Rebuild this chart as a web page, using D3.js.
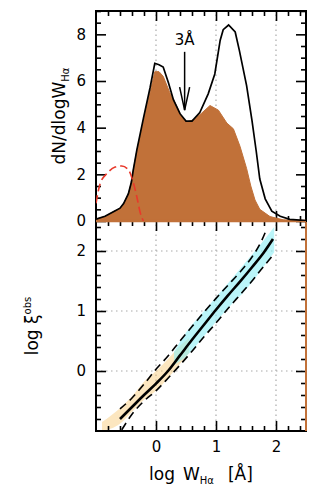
<!DOCTYPE html>
<html>
<head>
<meta charset="utf-8">
<script src="https://cdn.jsdelivr.net/npm/d3@7"></script>
<style>
  body { margin: 0; background: #fff; }
  text { font-family: "DejaVu Sans", sans-serif; fill: #000; }
</style>
</head>
<body>
<div id="chart"></div>
<script>
// top panel: distribution of log W(Halpha)
const histX = [-1.0, -0.85, -0.71, -0.6, -0.54, -0.46, -0.41, -0.38, -0.32, -0.21, -0.1, -0.02, 0.05, 0.12, 0.21, 0.29, 0.4, 0.5, 0.6, 0.73, 0.87, 0.98, 1.07, 1.12, 1.21, 1.32, 1.39, 1.51, 1.6, 1.67, 1.73, 1.82, 1.93, 2.07, 2.23, 2.45, 2.5];
const histAll = [0.08, 0.2, 0.4, 0.55, 0.75, 1.17, 1.67, 2.17, 3.04, 4.4, 5.7, 6.76, 6.7, 6.6, 5.9, 5.2, 4.6, 4.28, 4.28, 4.65, 5.45, 6.3, 7.75, 8.2, 8.4, 8.1, 7.3, 5.8, 4.3, 3.0, 1.8, 0.95, 0.42, 0.2, 0.07, 0.03, 0.02];
const subX = [-1.0, -0.85, -0.71, -0.6, -0.54, -0.46, -0.41, -0.38, -0.32, -0.21, -0.1, -0.02, 0.05, 0.12, 0.23, 0.34, 0.42, 0.51, 0.62, 0.76, 0.9, 1.04, 1.18, 1.29, 1.4, 1.51, 1.58, 1.65, 1.73, 1.9, 2.12, 2.3, 2.5];
const subY = [0.08, 0.2, 0.4, 0.55, 0.75, 1.17, 1.67, 2.17, 3.0, 4.3, 5.5, 6.4, 6.4, 6.2, 5.5, 4.95, 4.5, 4.25, 4.33, 4.62, 4.95, 4.75, 4.2, 3.95, 3.2, 2.25, 1.5, 0.9, 0.5, 0.19, 0.05, 0.02, 0.0];
const modelX = [-1.0, -0.93, -0.82, -0.68, -0.57, -0.46, -0.39, -0.32, -0.26, -0.21];
const modelY = [0.76, 1.61, 2.03, 2.31, 2.36, 2.19, 1.76, 1.04, 0.33, 0.0];
const arrowX = Math.log10(3), arrowTop = 7.25, arrowTip = 4.75, arrowLabel = "3Å";

// bottom panel: log xi(obs) vs log W(Halpha)
const fitX = [-0.6, -0.4, -0.2, 0, 0.2, 0.4, 0.6, 0.8, 1.0, 1.2, 1.4, 1.6, 1.8, 1.95];
const fitY = [-0.8, -0.6, -0.4, -0.21, 0.0, 0.26, 0.52, 0.77, 1.02, 1.26, 1.49, 1.73, 1.98, 2.2];
const upX = [-0.6, -0.4, -0.2, 0, 0.2, 0.4, 0.6, 0.8, 1.0, 1.2, 1.4, 1.6, 1.75, 1.85];
const upY = [-0.63, -0.45, -0.22, 0.03, 0.25, 0.5, 0.74, 0.98, 1.21, 1.43, 1.65, 1.9, 2.15, 2.38];
const loX = [-0.57, -0.4, -0.2, 0, 0.2, 0.4, 0.6, 0.8, 1.0, 1.2, 1.4, 1.6, 1.8, 1.95];
const loY = [-0.98, -0.72, -0.5, -0.33, -0.12, 0.1, 0.33, 0.57, 0.8, 1.04, 1.27, 1.5, 1.75, 1.93];
const cyanX = [0.3, 0.5, 0.75, 1.0, 1.25, 1.5, 1.75, 1.97];
const cyanLo = [0.1, 0.24, 0.52, 0.82, 1.1, 1.36, 1.68, 1.98];
const cyanHi = [0.32, 0.64, 0.94, 1.23, 1.52, 1.82, 2.12, 2.4];
const orangeX = [-0.9, -0.6, -0.4, -0.2, 0, 0.2, 0.4, 0.55];
const orangeLo = [-1.0, -0.88, -0.68, -0.48, -0.33, -0.12, 0.12, 0.3];
const orangeHi = [-0.85, -0.62, -0.42, -0.18, 0.0, 0.2, 0.42, 0.55];

const xTicks = [0, 1, 2];
const topYTicks = [0, 2, 4, 6, 8];
const botYTicks = [0, 1, 2];

const brown = "#c17139";

const svg = d3.select("#chart").append("svg")
  .attr("width", 318).attr("height", 495);
svg.append("rect").attr("width", 318).attr("height", 495).attr("fill", "#fff");

const x = d3.scaleLinear().domain([-1, 2.5]).range([96, 306]);
const yTop = d3.scaleLinear().domain([0, 9]).range([221, 11]);
const yBot = d3.scaleLinear().domain([-1, 2.5]).range([431, 221]);

const notInt = v => Math.abs(v - Math.round(v)) > 1e-6;
const xMinor = d3.range(-1, 2.5001, 0.2).filter(notInt);

svg.append("clipPath").attr("id", "clipTop").append("rect")
  .attr("x", 96).attr("y", 11).attr("width", 210).attr("height", 210);
svg.append("clipPath").attr("id", "clipBot").append("rect")
  .attr("x", 96).attr("y", 221).attr("width", 210).attr("height", 210);

function grid(g, y, xs, ys) {
  g.selectAll(".gx").data(xs).enter().append("line")
    .attr("x1", d => x(d)).attr("x2", d => x(d))
    .attr("y1", y.range()[0]).attr("y2", y.range()[1])
    .attr("stroke", "#aaa").attr("stroke-width", 1.2).attr("stroke-dasharray", "1.5,3.5");
  g.selectAll(".gy").data(ys).enter().append("line")
    .attr("y1", d => y(d)).attr("y2", d => y(d))
    .attr("x1", x.range()[0]).attr("x2", x.range()[1])
    .attr("stroke", "#aaa").attr("stroke-width", 1.2).attr("stroke-dasharray", "1.5,3.5");
}

// ticks pointing inward on all four sides
function box(g, y, yMajor, yMinor, labelY, labelX) {
  const [y0, y1] = y.range();
  const [x0, x1] = x.range();
  const axes = [
    [d3.axisBottom(x), `translate(0,${y0})`, xTicks, xMinor, labelX],
    [d3.axisTop(x), `translate(0,${y1})`, xTicks, xMinor, false],
    [d3.axisLeft(y), `translate(${x0},0)`, yMajor, yMinor, labelY],
    [d3.axisRight(y), `translate(${x1},0)`, yMajor, yMinor, false],
  ];
  axes.forEach(([a, tr, major, minor, lab]) => {
    g.append("g").attr("transform", tr)
      .call(a.tickValues(minor).tickSize(-5).tickFormat(""))
      .call(s => s.select(".domain").remove())
      .selectAll("line").attr("stroke-width", 1.6);
    const m = g.append("g").attr("transform", tr)
      .call(a.tickValues(major).tickSize(-10).tickPadding(lab ? 10 : 0)
        .tickFormat(lab ? d3.format("d") : ""))
      .call(s => s.select(".domain").remove());
    m.selectAll("line").attr("stroke-width", 1.6);
    m.selectAll("text").attr("font-family", "DejaVu Sans").attr("font-size", 15);
  });
  g.append("rect").attr("x", x0).attr("y", y1)
    .attr("width", x1 - x0).attr("height", y0 - y1)
    .attr("fill", "none").attr("stroke", "#000").attr("stroke-width", 2);
}

// ---------- bottom panel ----------
const botG = svg.append("g");
grid(botG, yBot, xTicks, botYTicks);

const band = d3.area().x(d => x(d[0])).y0(d => yBot(d[1])).y1(d => yBot(d[2])).curve(d3.curveMonotoneX);
botG.append("path").datum(orangeX.map((v, i) => [v, orangeLo[i], orangeHi[i]]))
  .attr("clip-path", "url(#clipBot)")
  .attr("fill", "#f8c060").attr("fill-opacity", 0.4).attr("d", band);
botG.append("path").datum(cyanX.map((v, i) => [v, cyanLo[i], cyanHi[i]]))
  .attr("clip-path", "url(#clipBot)")
  .attr("fill", "#8ceff5").attr("fill-opacity", 0.6).attr("d", band);

const lineBot = d3.line().x(d => x(d[0])).y(d => yBot(d[1])).curve(d3.curveMonotoneX);
botG.append("path").datum(upX.map((v, i) => [v, upY[i]]))
  .attr("clip-path", "url(#clipBot)")
  .attr("fill", "none").attr("stroke", "#000").attr("stroke-width", 1.6)
  .attr("stroke-dasharray", "8,5").attr("d", lineBot);
botG.append("path").datum(loX.map((v, i) => [v, loY[i]]))
  .attr("clip-path", "url(#clipBot)")
  .attr("fill", "none").attr("stroke", "#000").attr("stroke-width", 1.6)
  .attr("stroke-dasharray", "8,5").attr("d", lineBot);
botG.append("path").datum(fitX.map((v, i) => [v, fitY[i]]))
  .attr("fill", "none").attr("stroke", "#000").attr("stroke-width", 2.6)
  .attr("d", lineBot);

box(botG, yBot, botYTicks, d3.range(-1, 2.5001, 0.2).filter(notInt), true, true);
botG.append("line")
  .attr("x1", x(2.5)).attr("x2", x(2.5)).attr("y1", yBot(2.5)).attr("y2", yBot(-1))
  .attr("stroke", brown).attr("stroke-width", 2);

// ---------- top panel ----------
const topG = svg.append("g");
grid(topG, yTop, xTicks, []);
box(topG, yTop, topYTicks, d3.range(0, 9.001, 0.5).filter(v => v % 2 !== 0), true, false);

topG.append("path").datum(subX.map((v, i) => [v, subY[i]]))
  .attr("clip-path", "url(#clipTop)")
  .attr("fill", brown).attr("stroke", brown).attr("stroke-width", 1)
  .attr("d", d3.area().x(d => x(d[0])).y0(yTop(0)).y1(d => yTop(d[1])));
topG.append("line")
  .attr("x1", x(-1)).attr("x2", x(2.5)).attr("y1", yTop(0)).attr("y2", yTop(0))
  .attr("stroke", brown).attr("stroke-width", 2.5);

topG.append("path").datum(histX.map((v, i) => [v, histAll[i]]))
  .attr("clip-path", "url(#clipTop)")
  .attr("fill", "none").attr("stroke", "#000").attr("stroke-width", 1.7)
  .attr("d", d3.line().x(d => x(d[0])).y(d => yTop(d[1])));

topG.append("path").datum(modelX.map((v, i) => [v, modelY[i]]))
  .attr("clip-path", "url(#clipTop)")
  .attr("fill", "none").attr("stroke", "#e8392b").attr("stroke-width", 1.6)
  .attr("stroke-dasharray", "8,4")
  .attr("d", d3.line().x(d => x(d[0])).y(d => yTop(d[1])).curve(d3.curveMonotoneX));

// 3A arrow
const ax = x(arrowX);
topG.append("line").attr("x1", ax).attr("x2", ax)
  .attr("y1", yTop(arrowTop)).attr("y2", yTop(arrowTip))
  .attr("stroke", "#000").attr("stroke-width", 1.5);
topG.append("path")
  .attr("d", `M${ax - 5},${yTop(arrowTip) - 23}L${ax},${yTop(arrowTip)}L${ax + 5},${yTop(arrowTip) - 23}`)
  .attr("fill", "none").attr("stroke", "#000").attr("stroke-width", 1.5);
topG.append("text").attr("x", ax).attr("y", yTop(7.55))
  .attr("text-anchor", "middle").attr("font-size", 15).text(arrowLabel);

// ---------- axis titles ----------
const t1 = svg.append("text").attr("transform", "translate(65,116) rotate(-90)")
  .attr("text-anchor", "middle").attr("font-size", 17);
t1.append("tspan").text("dN/dlogW");
t1.append("tspan").attr("font-size", 10).attr("dy", 4).text("Hα");

const t2 = svg.append("text").attr("transform", "translate(38,326) rotate(-90)")
  .attr("text-anchor", "middle").attr("font-size", 17);
t2.append("tspan").text("log  ξ");
t2.append("tspan").attr("font-size", 10).attr("dy", -7).text("obs");

const t3 = svg.append("text").attr("x", 201).attr("y", 480)
  .attr("text-anchor", "middle").attr("font-size", 17);
t3.append("tspan").text("log");
t3.append("tspan").attr("dx", 8).text("W");
t3.append("tspan").attr("font-size", 10).attr("dy", 4).text("Hα");
t3.append("tspan").attr("dx", 14).attr("dy", -4).text("[Å]");
</script>
</body>
</html>
